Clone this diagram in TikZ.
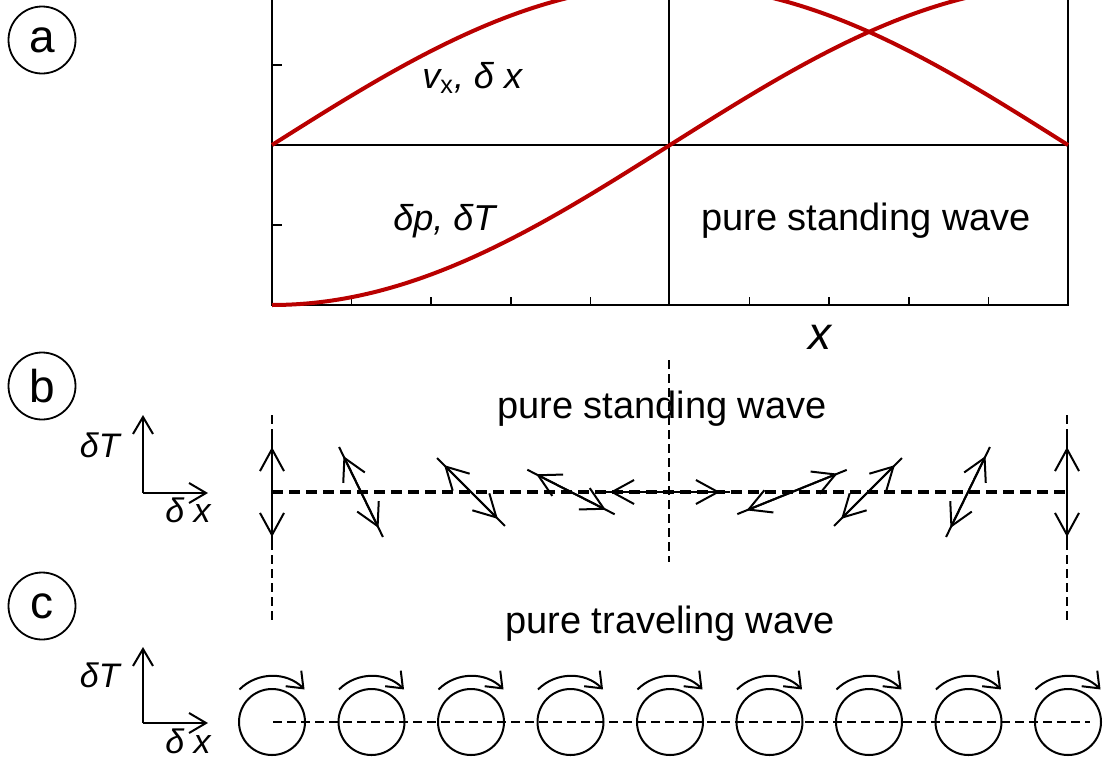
\documentclass[tikz,border=0pt]{standalone}
\usepackage{fontspec}
\setmainfont{Liberation Sans}
\usepackage{tikz}
\usetikzlibrary{calc, arrows.meta}
\usepackage{xcolor}
\definecolor{wavered}{RGB}{185,0,0}
\tikzset{
    frame/.style = {line width=1.2pt},
    wave/.style = {wavered, line width=2pt},
    vec/.style = {line width=1pt},
    spin/.style = {line width=1pt, -{Straight Barb[length=7pt, width=11pt]}},
    axisvec/.style = {line width=1pt, -{Straight Barb[length=8.5pt, width=10pt]}},
    nodeline/.style = {line width=0.7pt, dash pattern=on 4.5pt off 2.5pt},
    midline/.style = {line width=1.6pt, dash pattern=on 5.5pt off 3pt},
    tag/.style = {draw, circle, minimum size=33.5pt, inner sep=0pt, line width=0.9pt,
                  font=\fontsize{23}{23}\selectfont},
    title/.style = {anchor=base, inner sep=0pt, font=\fontsize{19}{19}\selectfont},
    curvelabel/.style = {anchor=base west, inner sep=0pt, font=\fontsize{18}{18}\selectfont\itshape},
    small/.style = {inner sep=0pt, font=\fontsize{17}{17}\selectfont\itshape}
}

\begin{document}
\begin{tikzpicture}[x=0.5pt, y=-0.5pt, >={Straight Barb[length=11pt, width=12pt]}]
            \useasboundingbox (0,0) rectangle (1103,761);
            \clip (0,0) rectangle (1103,761);
            \node[tag] (la) at (42,40) {a};
            \node[tag] (lb) at (42,386) {b};
            \node[tag] (lc) at (42,606) {c};

            \coordinate (A) at (272,-20);
            \coordinate (B) at (1068,305);
            \coordinate (M) at (669,305);
            \draw[frame] (A) rectangle (B);
            \draw[line width=0.9pt] (272,145) -- (1068,145);
            \draw[line width=1pt] (669,-20) -- (M);
            \foreach \y in {65,225} \draw[line width=0.8pt] (272,\y) -- (282,\y);
            \foreach \k in {1,2,3,4,6,7,8,9} \draw[line width=0.8pt] (272+79.6*\k,305) -- (272+79.6*\k,297);
            \draw[wave] plot[domain=272:1068, samples=120] (\x,{145-160*sin((\x-272)/796*180)});
            \draw[wave] plot[domain=272:1068, samples=120] (\x,{145+160*cos((\x-272)/796*180)});
            \node[curvelabel] (vx) at (422,88) {v{\upshape\textsubscript{x}}, δ x};
            \node[curvelabel] (dp) at (393,230) {δp, δT};
            \node[title] (sw) at (866,230) {pure standing wave};
            \node[anchor=base, inner sep=0pt, font=\fontsize{23}{23}\selectfont\itshape] (xl) at (820,349) {x};

            \node[title] (sb) at (662,418) {pure standing wave};
            \coordinate (ob) at (143,493);
            \coordinate (obT) at (143,415);
            \coordinate (obx) at (208,493);
            \draw[axisvec] (ob) -- (obT);
            \draw[axisvec] (ob) -- (obx);
            \node[small, anchor=base east] (bT) at (120,457) {δT};
            \node[small, anchor=base east] (bx) at (211,522) {δ x};
            \draw[nodeline] (272,415) -- (272,620);
            \draw[nodeline] (1067,415) -- (1067,620);
            \draw[nodeline] (669,360) -- (669,562);
            \draw[midline] (272,492) -- (1068,492);
            \foreach \cx/\ang/\h [count=\i] in {272/90/55, 361/64/50, 471/45/48, 571/27/49, 665/0/65,
                                              792/-22/59, 868/-45/48, 968/-64/50, 1067/90/55} {
                \coordinate (s\i) at (\cx,492);
                \draw[vec] ($(s\i)+(\ang:-\h)$) -- ($(s\i)+(\ang:\h)$);
                \draw[vec, <->] ($(s\i)+(\ang:-\h+10)$) -- ($(s\i)+(\ang:\h-10)$);
            }

            \node[title] (tc) at (670,633) {pure traveling wave};
            \coordinate (oc) at (143,723);
            \coordinate (ocT) at (143,647);
            \coordinate (ocx) at (208,723);
            \draw[axisvec] (oc) -- (ocT);
            \draw[axisvec] (oc) -- (ocx);
            \node[small, anchor=base east] (cT) at (120,687) {δT};
            \node[small, anchor=base east] (cx) at (211,753) {δ x};
            \draw[nodeline] (273,722) -- (1090,722);
            \foreach \k in {0,...,8} {
                \coordinate (r\k) at (272+99.5*\k,722);
                \draw[vec] (r\k) circle[radius=33];
                \draw[spin] ($(r\k)+(-135:46)$) arc[start angle=-135, end angle=-45, radius=46];
            }
\end{tikzpicture}
\end{document}
